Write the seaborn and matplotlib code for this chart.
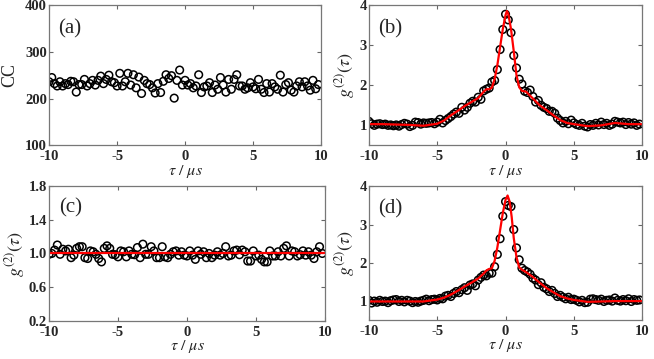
import numpy as np
import pandas as pd
import matplotlib
matplotlib.use("Agg")
import matplotlib.pyplot as plt
import seaborn as sns

# time bins (us), 0.2 us steps
tau = np.round(np.linspace(-10, 9.8, 100), 1)

# (a) raw coincidence counts
cc_a = [236, 245, 232, 227, 236, 227, 232, 230, 237, 236,
        214, 230, 230, 241, 227, 232, 239, 229, 239, 248,
        232, 241, 250, 236, 234, 227, 254, 227, 236, 254,
        229, 251, 223, 246, 211, 239, 232, 230, 223, 212,
        232, 213, 237, 251, 243, 249, 201, 239, 261, 229,
        239, 229, 232, 223, 227, 251, 213, 225, 227, 234,
        213, 229, 220, 245, 229, 214, 241, 220, 241, 251,
        227, 227, 220, 223, 234, 225, 221, 241, 220, 213,
        232, 214, 232, 225, 220, 250, 214, 230, 234, 218,
        214, 227, 236, 225, 236, 227, 218, 239, 221, 230]

# (b) normalised g2, measured
g2_b = [1.10, 1.04, 1.00, 1.03, 1.04, 1.02, 1.03, 1.00, 1.01, 0.99,
        1.01, 0.98, 1.02, 1.05, 1.03, 0.97, 1.00, 1.08, 1.07, 1.03,
        1.06, 1.05, 1.06, 1.07, 1.04, 1.08, 1.15, 1.06, 1.12, 1.17,
        1.22, 1.28, 1.33, 1.30, 1.45, 1.38, 1.45, 1.55, 1.60, 1.58,
        1.70, 1.65, 1.86, 1.90, 1.93, 2.08, 2.12, 2.39, 2.89, 3.39,
        3.77, 3.63, 3.31, 2.74, 2.43, 2.15, 2.03, 1.85, 1.82, 1.88,
        1.72, 1.58, 1.62, 1.50, 1.45, 1.42, 1.35, 1.35, 1.30, 1.18,
        1.12, 1.06, 1.10, 1.04, 1.13, 1.06, 1.02, 1.00, 1.05, 0.98,
        0.96, 1.02, 1.00, 1.05, 1.01, 1.08, 1.02, 1.05, 1.00, 1.03,
        1.10, 1.08, 1.06, 1.08, 1.02, 1.07, 1.03, 1.06, 1.00, 1.03]

# (b) fit
fit_tau_b = [-10, -9, -8, -7, -6, -5, -4.5, -4, -3.5, -3, -2.5, -2, -1.6, -1.4,
             -1.2, -1.0, -0.8, -0.6, -0.4, -0.2, 0.0, 0.1, 0.2, 0.4, 0.6, 0.8,
             1.0, 1.2, 1.5, 2.0, 2.5, 3.0, 3.5, 4.0, 4.5, 5.0, 6.0, 7.0, 8.0, 9.0, 10]
fit_b = [1.03, 1.03, 1.02, 1.01, 0.99, 1.04, 1.12, 1.25, 1.36, 1.48, 1.58, 1.68, 1.84, 1.90,
         1.90, 1.94, 2.15, 2.50, 2.95, 3.40, 3.75, 3.85, 3.78, 3.40, 2.85, 2.25,
         1.95, 1.86, 1.84, 1.67, 1.50, 1.38, 1.25, 1.13, 1.06, 1.03, 0.98, 1.00, 1.06, 1.03, 1.03]

# (c) normalised g2, flat
g2_c = [0.99, 1.00, 1.04, 1.10, 0.99, 1.05, 1.03, 1.05, 0.95, 0.98,
        1.06, 1.08, 1.08, 0.95, 0.94, 1.03, 1.02, 0.99, 0.94, 0.90,
        1.06, 1.09, 1.06, 0.99, 0.985, 0.96, 1.03, 1.02, 0.96, 1.03,
        0.99, 0.985, 1.07, 0.95, 1.11, 0.99, 0.99, 1.08, 1.03, 0.95,
        0.95, 1.08, 0.96, 0.95, 0.99, 1.02, 1.03, 0.98, 1.02, 0.98,
        0.97, 1.03, 0.98, 0.93, 1.03, 0.99, 1.02, 0.95, 1.00, 0.95,
        0.98, 1.02, 0.98, 1.00, 1.08, 0.97, 0.98, 1.03, 1.04, 0.985,
        1.04, 1.02, 0.91, 0.91, 1.03, 0.97, 0.98, 0.93, 0.90, 0.90,
        1.03, 0.97, 0.97, 1.02, 0.97, 1.06, 1.09, 0.97, 1.03, 1.02,
        0.97, 0.985, 1.03, 0.98, 1.02, 0.98, 0.94, 1.02, 1.08, 1.00]
fit_tau_c = [-10, 10]
fit_c = [1.0, 1.0]

# (d) normalised g2, measured
g2_d = [1.02, 0.95, 1.00, 0.97, 1.02, 0.99, 1.00, 0.96, 1.01, 1.03,
        1.04, 0.99, 1.02, 0.98, 1.02, 1.00, 0.96, 0.99, 0.97, 1.00,
        1.02, 1.05, 1.01, 1.04, 1.05, 1.03, 1.07, 1.06, 1.13, 1.15,
        1.12, 1.20, 1.25, 1.22, 1.30, 1.35, 1.28, 1.42, 1.45, 1.40,
        1.55, 1.62, 1.68, 1.66, 1.73, 1.73, 1.90, 2.22, 2.63, 3.22,
        3.60, 3.50, 3.47, 2.87, 2.39, 2.08, 1.86, 1.80, 1.76, 1.70,
        1.60, 1.55, 1.43, 1.48, 1.36, 1.32, 1.25, 1.28, 1.20, 1.12,
        1.15, 1.10, 1.06, 1.10, 1.04, 1.05, 1.02, 0.98, 1.02, 0.96,
        0.97, 1.05, 1.06, 1.04, 1.02, 1.05, 0.99, 1.02, 1.03, 1.00,
        1.08, 1.02, 1.00, 1.04, 1.01, 1.06, 0.99, 1.04, 1.02, 1.03]

# (d) fit
fit_tau_d = [-10, -9, -8, -7, -6, -5, -4.5, -4, -3.5, -3, -2.5, -2, -1.6, -1.4,
             -1.2, -1.0, -0.8, -0.6, -0.4, -0.2, 0.0, 0.15, 0.3, 0.45, 0.6, 0.8,
             1.0, 1.2, 1.5, 2.0, 2.5, 3.0, 3.5, 4.0, 4.5, 5.0, 6.0, 7.0, 8.0, 9.0, 10]
fit_d = [0.99, 0.99, 0.99, 0.99, 0.99, 1.04, 1.09, 1.17, 1.27, 1.38, 1.48, 1.59, 1.72, 1.80,
         1.84, 1.86, 2.05, 2.40, 2.85, 3.30, 3.65, 3.76, 3.60, 3.20, 2.65, 2.15,
         1.88, 1.82, 1.76, 1.63, 1.48, 1.34, 1.23, 1.13, 1.07, 1.03, 0.98, 0.99, 1.00, 1.00, 1.00]

xticks = [-10, -5, 0, 5, 10]
xticklabels = ['-10', '-5', '0', '5', '10']

sns.set_style("ticks")
plt.rcParams['font.family'] = ['Liberation Serif', 'DejaVu Serif']
plt.rcParams['mathtext.fontset'] = 'stix'
plt.rcParams['axes.unicode_minus'] = False

fig = plt.figure(figsize=(6.54, 3.59), dpi=100)
ax_a = fig.add_axes([0.075, 0.595, 0.416, 0.391])
ax_b = fig.add_axes([0.564, 0.595, 0.418, 0.391])
ax_c = fig.add_axes([0.075, 0.106, 0.422, 0.376])
ax_d = fig.add_axes([0.564, 0.108, 0.418, 0.373])

mk = dict(marker='o', s=30, facecolor='none', edgecolor='black', linewidth=1.1, legend=False)

df_a = pd.DataFrame({'tau': tau, 'cc': cc_a})
sns.scatterplot(data=df_a, x='tau', y='cc', ax=ax_a, **mk)

df_b = pd.DataFrame({'tau': tau, 'g2': g2_b})
sns.scatterplot(data=df_b, x='tau', y='g2', ax=ax_b, **mk)
sns.lineplot(x=fit_tau_b, y=fit_b, ax=ax_b, color='red', lw=1.6)

df_c = pd.DataFrame({'tau': tau, 'g2': g2_c})
sns.scatterplot(data=df_c, x='tau', y='g2', ax=ax_c, **mk)
sns.lineplot(x=fit_tau_c, y=fit_c, ax=ax_c, color='red', lw=1.6)

df_d = pd.DataFrame({'tau': tau, 'g2': g2_d})
sns.scatterplot(data=df_d, x='tau', y='g2', ax=ax_d, **mk)
sns.lineplot(x=fit_tau_d, y=fit_d, ax=ax_d, color='red', lw=1.6)

tk = dict(fontweight='bold', fontsize=10.5)
ax_a.set_ylim(100, 400)
ax_a.set_yticks([100, 200, 300, 400], ['100', '200', '300', '400'], **tk)
ax_c.set_ylim(0.2, 1.8)
ax_c.set_yticks([0.2, 0.6, 1.0, 1.4, 1.8], ['0.2', '0.6', '1.0', '1.4', '1.8'], **tk)
for ax in (ax_b, ax_d):
    ax.set_ylim(0.5, 4)
    ax.set_yticks([1, 2, 3, 4], ['1', '2', '3', '4'], **tk)

labels = ['(a)', '(b)', '(c)', '(d)']
for ax, lab in zip((ax_a, ax_b, ax_c, ax_d), labels):
    ax.set_xlim(-10, 10)
    ax.set_xticks(xticks, xticklabels, **tk)
    ax.tick_params(direction='in', top=True, right=True, length=3, width=0.8,
                   color='#666666')
    ax.tick_params(axis='x', pad=3.5)
    ax.tick_params(axis='y', pad=1.5)
    for sp in ax.spines.values():
        sp.set_color('#777777')
        sp.set_linewidth(0.9)
    ax.set_xlabel(r'$\tau\ /\ \mu s$', fontsize=11.5, labelpad=-0.5)
    ax.text(0.035, 0.80, lab, transform=ax.transAxes, fontsize=15)

ax_a.set_ylabel('CC', fontsize=13, labelpad=5)
for ax in (ax_b, ax_c, ax_d):
    ax.set_ylabel(r'$g^{(2)}(\tau)$', fontsize=13, labelpad=1.5)

fig.savefig('out.png', dpi=100)
